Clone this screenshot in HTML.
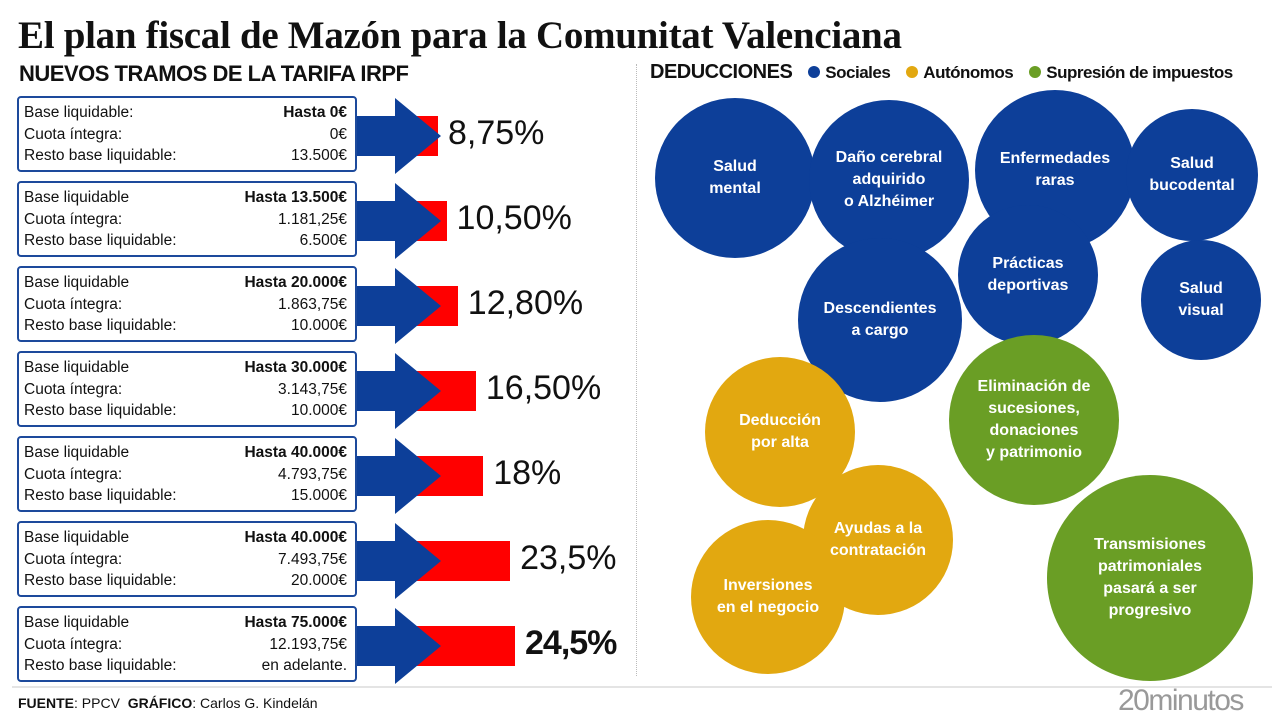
<!DOCTYPE html>
<html><head><meta charset="utf-8">
<style>
body{margin:0;width:1280px;height:720px;background:#fff;font-family:"Liberation Sans",sans-serif;position:relative;overflow:hidden}
.abs{position:absolute}
h1{position:absolute;left:18px;top:14px;margin:0;font-family:"Liberation Serif",serif;font-size:39px;font-weight:bold;color:#111;letter-spacing:-0.3px;line-height:44px}
.sub{position:absolute;top:61px;font-size:22px;font-weight:bold;color:#111;letter-spacing:-0.5px}
.box{position:absolute;left:17px;width:340px;height:76px;border:2px solid #1d4a9c;border-radius:4px;box-sizing:border-box;font-size:15.5px;color:#111;padding:4px 8px 0 5px;line-height:21.5px;background:#fff;z-index:2}
.row{display:flex;justify-content:space-between}
.pct{position:absolute;font-size:34px;color:#111}
.bub{position:absolute;border-radius:50%;display:flex;align-items:center;justify-content:center;text-align:center;color:#fff;font-weight:bold;font-size:16px;line-height:22px}
.leg{display:inline-block;width:12px;height:12px;border-radius:50%;margin:0 5px 0 16px;vertical-align:0}
</style></head><body>
<h1>El plan fiscal de Mazón para la Comunitat Valenciana</h1>
<div class="sub" style="left:19px">NUEVOS TRAMOS DE LA TARIFA IRPF</div>
<div class="sub" style="left:650px;font-size:20px">DEDUCCIONES<span style="font-size:17px;font-weight:bold"><span class="leg" style="background:#0d3f99"></span>Sociales<span class="leg" style="background:#e2a810"></span>Autónomos<span class="leg" style="background:#6a9e25"></span>Supresión de impuestos</span></div>
<div class="abs" style="left:636px;top:64px;height:612px;border-left:1px dotted #bbb"></div>
<div class="abs" style="left:12px;top:686px;width:1260px;border-top:2px solid #e4e4e4"></div>
<div class="abs" style="left:18px;top:695px;font-size:14px;color:#111"><b>FUENTE</b>: PPCV &nbsp;<b>GRÁFICO</b>: Carlos G. Kindelán</div>
<div class="abs" style="left:1118px;top:684px;font-size:30px;color:#999;letter-spacing:-1.5px">20minutos</div>
<div id="left"></div>
<div id="right"></div>
<script>
const labels1=["Base liquidable:","Base liquidable","Base liquidable","Base liquidable","Base liquidable","Base liquidable","Base liquidable"];
const hasta=["Hasta 0€","Hasta 13.500€","Hasta 20.000€","Hasta 30.000€","Hasta 40.000€","Hasta 40.000€","Hasta 75.000€"];
const cuota=["0€","1.181,25€","1.863,75€","3.143,75€","4.793,75€","7.493,75€","12.193,75€"];
const resto=["13.500€","6.500€","10.000€","10.000€","15.000€","20.000€","en adelante."];
const pcts=["8,75%","10,50%","12,80%","16,50%","18%","23,5%","24,5%"];
const rates=[8.75,10.5,12.8,16.5,18,23.5,24.5];
const L=document.getElementById('left');
for(let i=0;i<7;i++){
  const top=96+i*85;
  const b=document.createElement('div');b.className='box';b.style.top=top+'px';
  
  
  b.innerHTML=`<div class="row"><span>${labels1[i]}</span><b>${hasta[i]}</b></div><div class="row"><span>Cuota íntegra:</span><span>${cuota[i]}</span></div><div class="row"><span>Resto base liquidable:</span><span>${resto[i]}</span></div>`;
  L.appendChild(b);
  const w=(rates[i]-8.75)/(24.5-8.75)*77+33;
  const red=document.createElement('div');red.className='abs';
  red.style.cssText=`left:405px;top:${top+20}px;width:${w}px;height:40px;background:#ff0000`;
  
  
  L.appendChild(red);
  const s=document.createElementNS('http://www.w3.org/2000/svg','svg');
  s.setAttribute('class','abs');s.setAttribute('width','90');s.setAttribute('height','80');
  s.style.left='355px';s.style.top=(top)+'px';s.style.zIndex=1;
  s.innerHTML='<polygon points="0,20 40,20 40,2 86,40 40,78 40,60 0,60" fill="#0d3f99"/>';
  
  
  L.appendChild(s);
  const p=document.createElement('div');p.className='pct';
  p.style.left=(405+w+10)+'px';p.style.top=(top+18)+'px';
  if(i==6){p.style.fontWeight='bold';p.style.letterSpacing='-1px';}
  p.textContent=pcts[i];
  
  
  L.appendChild(p);
}
const bubNames=["Salud<br>mental","Daño cerebral<br>adquirido<br>o Alzhéimer","Enfermedades<br>raras","Salud<br>bucodental","Descendientes<br>a cargo","Prácticas<br>deportivas","Salud<br>visual","Eliminación de<br>sucesiones,<br>donaciones<br>y patrimonio","Deducción<br>por alta","Ayudas a la<br>contratación","Inversiones<br>en el negocio","Transmisiones<br>patrimoniales<br>pasará a ser<br>progresivo"];
const bubCat=[0,0,0,0,0,0,0,2,1,1,1,2];
const bubCx=[735,889,1055,1192,880,1028,1201,1034,780,878,768,1150];
const bubCy=[178,180,170,175,320,275,300,420,432,540,597,578];
const bubR=[80,80,80,66,82,70,60,85,75,75,77,103];
const cols=["#0d3f99","#e2a810","#6a9e25"];
const R=document.getElementById('right');
const order=[0,1,2,3,5,4,6,7,8,9,10,11];
for(const i of order){
  const d=document.createElement('div');d.className='bub';
  d.style.cssText+=`left:${bubCx[i]-bubR[i]}px;top:${bubCy[i]-bubR[i]}px;width:${bubR[i]*2}px;height:${bubR[i]*2}px;background:${cols[bubCat[i]]}`;
  d.innerHTML=bubNames[i];
  
  
  R.appendChild(d);
}
</script>
</body></html>
